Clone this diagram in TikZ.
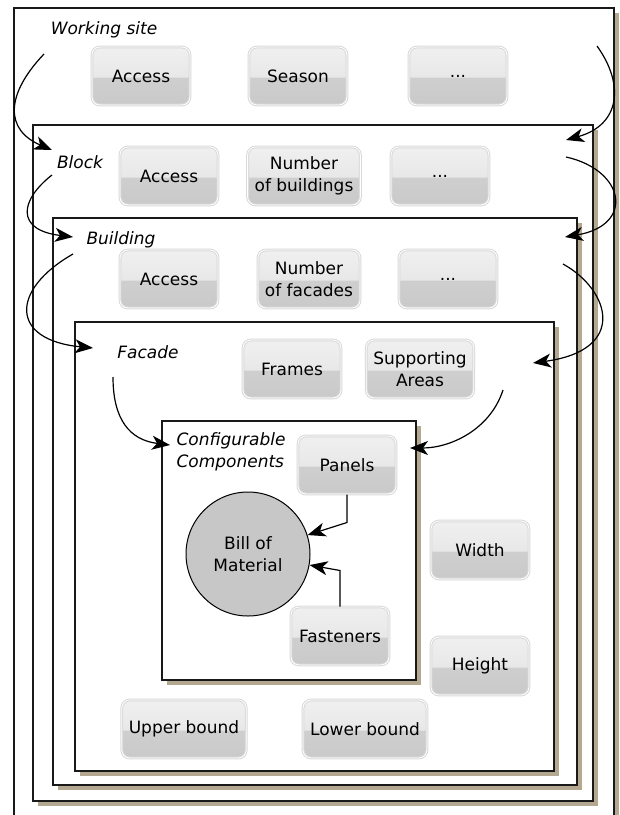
\documentclass[tikz,border=0pt]{standalone}
\usepackage{fontspec}
\setmainfont{DejaVu Sans}
\usepackage{tikz}
\usetikzlibrary{arrows.meta,shadows}
\definecolor{shadowtan}{HTML}{B4A890}
\pgfdeclareverticalshading{twotone}{100bp}{color(0bp)=(black!21); color(25bp)=(black!21); color(48.5bp)=(black!19); color(49.5bp)=(black!9); color(75bp)=(black!6); color(100bp)=(black!6)}
\tikzstyle{field} = [rounded corners=8bp, draw=black!15, double=white, double distance=0.8bp, line width=1bp, shading=twotone, minimum width=98bp, minimum height=58bp, inner xsep=7bp, align=center]
\tikzstyle{frame} = [draw=black!90, line width=1.4bp, fill=white, inner sep=0pt, outer sep=0pt, anchor=north west, drop shadow={shadow xshift=5bp, shadow yshift=-5bp, fill=shadowtan, opacity=1}]
\tikzstyle{level} = [execute at begin node=\itshape, inner sep=0pt, align=left]
\tikzstyle{bom} = [circle, draw, fill=black!22, line width=1bp, minimum size=124bp, align=center]
\tikzstyle{flow} = [-{Stealth[length=18bp,width=14bp,inset=5bp]}, line width=1.2bp]

\begin{document}
\begin{tikzpicture}[x=1bp, y=-1bp, font=\fontsize{17bp}{21.5bp}\selectfont]

\useasboundingbox (0,0) rectangle (620,815);
\clip (0,0) rectangle (620,815);

% nested frames
\node[frame, minimum width=600bp, minimum height=840bp] (siteframe) at (14,8) {};
\node[frame, minimum width=560bp, minimum height=676bp] (blockframe) at (33,125) {};
\node[frame, minimum width=524bp, minimum height=567bp] (buildingframe) at (53,218) {};
\node[frame, minimum width=479bp, minimum height=449bp] (facadeframe) at (75,322) {};
\node[frame, minimum width=254bp, minimum height=259bp] (compframe) at (162,421) {};

% working site
\node[level] (site) at (104,30) {Working site};
\node[field] (siteaccess) at (141,76) {Access};
\node[field] (season) at (298,76) {Season};
\node[field] (sitedots) at (458,76) {...};

% block
\node[level] (block) at (80,162) {Block};
\node[field] (blockaccess) at (169,176) {Access};
\node[field] (nbuildings) at (304,176) {Number\\of buildings};
\node[field] (blockdots) at (440,176) {...};

% building
\node[level] (building) at (121,240) {Building};
\node[field] (buildingaccess) at (169,279) {Access};
\node[field] (nfacades) at (309,279) {Number\\of facades};
\node[field] (buildingdots) at (448,279) {...};

% facade
\node[level] (facade) at (148,352) {Facade};
\node[field] (frames) at (292,369) {Frames};
\node[field] (supports) at (420,369) {Supporting\\Areas};
\node[field] (width) at (480,550) {Width};
\node[field] (height) at (480,666) {Height};
\node[field] (upper) at (184,729) {Upper bound};
\node[field] (lower) at (365,729) {Lower bound};

% configurable components
\node[level] (comp) at (231,452) {Configurable\\Components};
\node[field] (panels) at (347,465) {Panels};
\node[field] (fasteners) at (340,636) {Fasteners};
\node[bom] (bill) at (248,554) {Bill of\\Material};

% ends of the level arrows
\coordinate (siteL) at (44,54);
\coordinate (siteR) at (597,46);
\coordinate (blockinL) at (52,150);
\coordinate (blockinR) at (566,140);
\coordinate (blockL) at (52,175);
\coordinate (blockR) at (566,157);
\coordinate (buildinginL) at (73,237);
\coordinate (buildinginR) at (565,237);
\coordinate (buildingL) at (73,254);
\coordinate (buildingR) at (563,264);
\coordinate (facadeinL) at (93,348);
\coordinate (facadeinR) at (533,363);
\coordinate (facadeL) at (113,377);
\coordinate (facadeR) at (503,390);
\coordinate (compinL) at (170,445);
\coordinate (compinR) at (410,448);

\draw[flow] (siteL) .. controls (5,95) and (5,130) .. (blockinL);
\draw[flow] (siteR) .. controls (625,85) and (620,125) .. (blockinR);
\draw[flow] (blockL) .. controls (20,200) and (15,230) .. (buildinginL);
\draw[flow] (blockR) .. controls (625,170) and (635,225) .. (buildinginR);
\draw[flow] (buildingL) .. controls (10,290) and (10,340) .. (facadeinL);
\draw[flow] (buildingR) .. controls (610,290) and (628,350) .. (facadeinR);
\draw[flow] (facadeL) .. controls (113,420) and (130,440) .. (compinL);
\draw[flow] (facadeR) .. controls (490,430) and (450,448) .. (compinR);

\draw[flow] (panels.south) -- ++(0,28) -- (bill);
\draw[flow] (fasteners.north) -- ++(0,-36) -- (bill);

\end{tikzpicture}
\end{document}
